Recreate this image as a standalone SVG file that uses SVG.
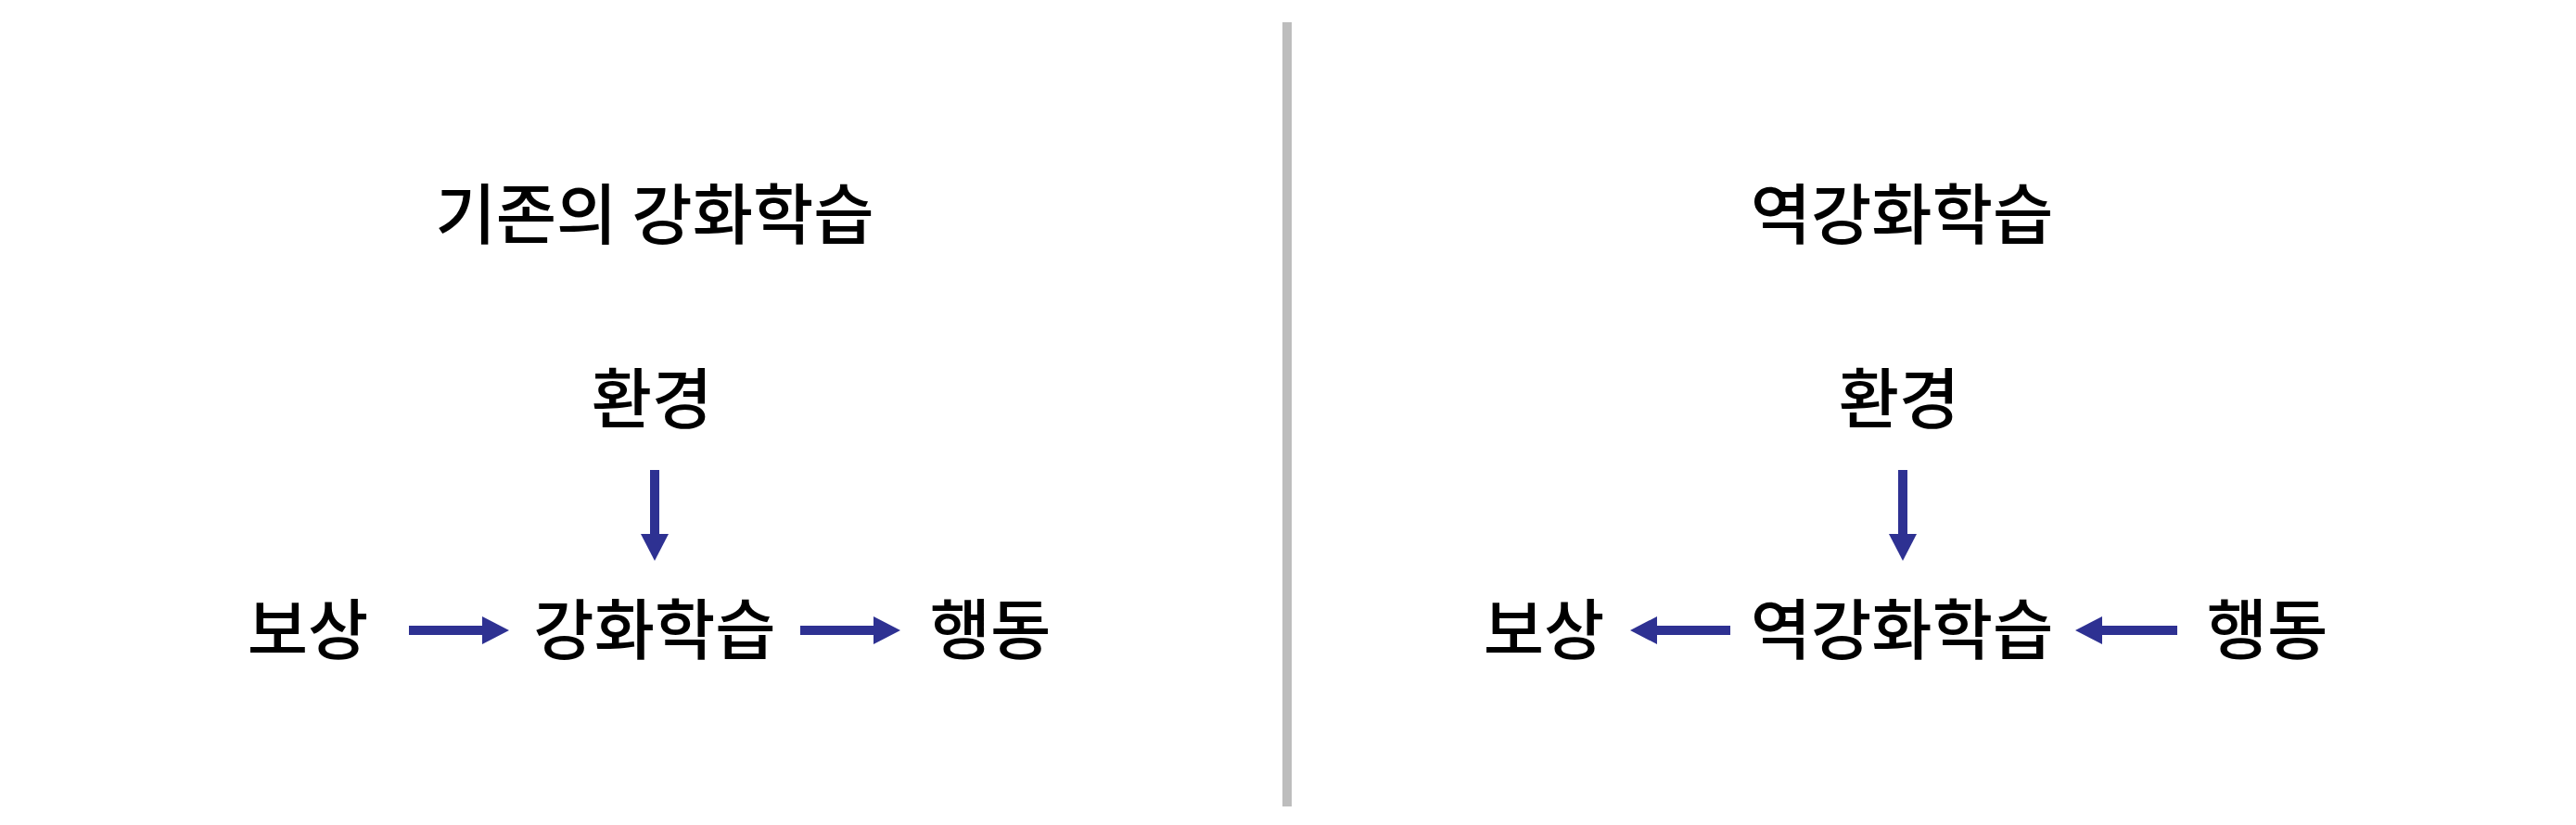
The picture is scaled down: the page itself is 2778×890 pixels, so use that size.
<svg xmlns="http://www.w3.org/2000/svg" width="2778" height="890" viewBox="0 0 2778 890">
<style>
text{font-family:"Noto Sans CJK KR","Noto Sans",sans-serif;font-size:71px;font-weight:500;fill:#000;text-anchor:middle}
.arr{stroke:#2E3192;stroke-width:10;fill:none;marker-end:url(#head)}
</style>
<defs>
<marker id="head" markerUnits="userSpaceOnUse" viewBox="0 0 29 30" markerWidth="29" markerHeight="30" refX="0" refY="15" orient="auto">
<path d="M0,0 L29,15 L0,30 Z" fill="#2E3192"/>
</marker>
</defs>
<rect width="2778" height="890" fill="#fff"/>
<line id="divider" x1="1388" y1="24" x2="1388" y2="870" stroke="#BDBDBD" stroke-width="10"/>
<g id="title-left"><text x="706" y="257">기존의 강화학습</text></g>
<g id="title-right"><text x="2051" y="257">역강화학습</text></g>
<g id="env-left"><text x="703" y="456">환경</text></g>
<g id="reward-left"><text x="332" y="705">보상</text></g>
<g id="rl-left"><text x="706" y="705">강화학습</text></g>
<g id="action-left"><text x="1068" y="705">행동</text></g>
<g id="env-right"><text x="2048" y="456">환경</text></g>
<g id="reward-right"><text x="1665" y="705">보상</text></g>
<g id="irl-right"><text x="2051" y="705">역강화학습</text></g>
<g id="action-right"><text x="2445" y="705">행동</text></g>
<g id="connectors">
<line class="arr" x1="706" y1="507" x2="706" y2="576"/>
<line class="arr" x1="441" y1="680" x2="520" y2="680"/>
<line class="arr" x1="863" y1="680" x2="942" y2="680"/>
<line class="arr" x1="2052" y1="507" x2="2052" y2="576"/>
<line class="arr" x1="1866" y1="680" x2="1787" y2="680"/>
<line class="arr" x1="2348" y1="680" x2="2267" y2="680"/>
</g>
</svg>
